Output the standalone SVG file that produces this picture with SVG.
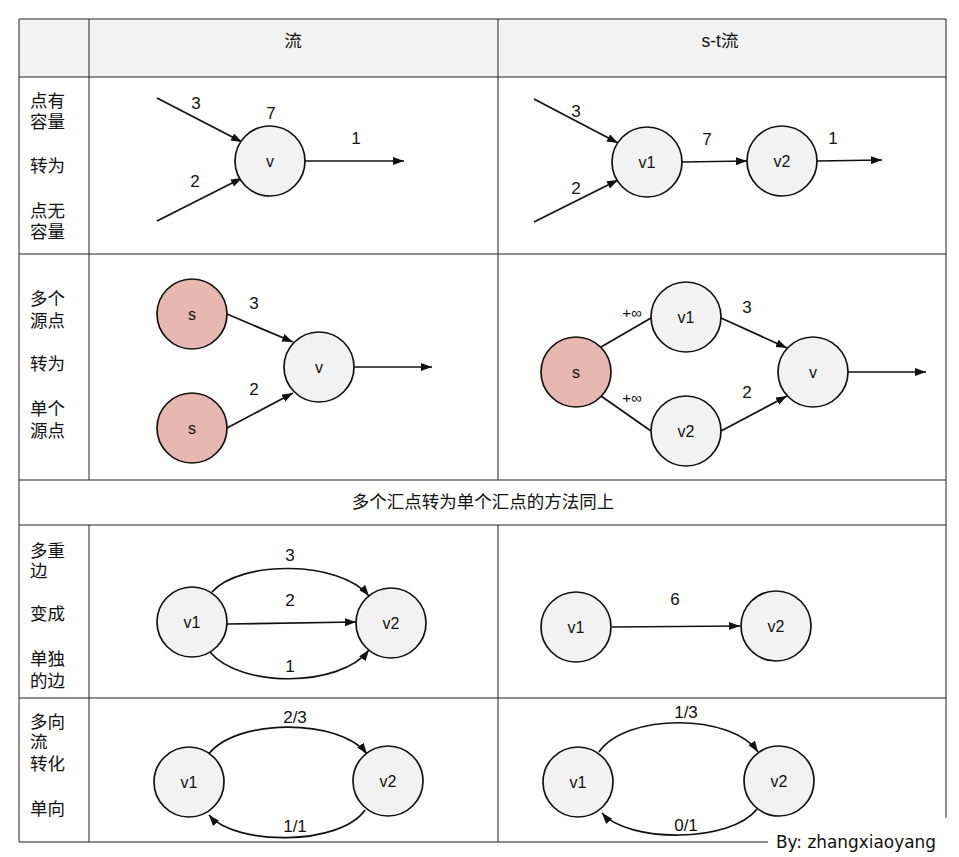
<svg xmlns="http://www.w3.org/2000/svg" width="959" height="857" viewBox="0 0 959 857">
<style>
.grid{stroke:#222;stroke-width:1;fill:none}
.hdr{fill:#f2f2f2}
.t{font-family:"Liberation Sans","Noto Sans CJK SC",sans-serif;font-size:17px;fill:#111}
.c{text-anchor:middle}
.lbl{font-family:"Liberation Sans","Noto Sans CJK SC",sans-serif;font-size:17.5px;fill:#111}
.node circle{fill:#f2f2f2;stroke:#111;stroke-width:1.7}
.node.src circle{fill:#e6b8af}
.node text{font-family:"Liberation Sans",sans-serif;font-size:16px;fill:#111;text-anchor:middle}
.e{stroke:#111;stroke-width:1.7;fill:none}
.ea{marker-end:url(#ah)}
.sm{font-size:15px}
.sig{font-family:"DejaVu Sans",sans-serif;font-size:17px;fill:#111}
</style>
<defs>
<marker id="ah" markerUnits="userSpaceOnUse" markerWidth="12" markerHeight="9" refX="11" refY="4" orient="auto">
<path d="M0,0 L11,4 L0,8 z" fill="#111"/>
</marker>
</defs>
<rect width="959" height="857" fill="#fff"/>
<g id="table">
<rect class="hdr" x="19" y="19" width="927" height="58"/>
<path class="grid" d="M19,19 H946 M19,77 H946 M19,254 H946 M19,480 H946 M19,525 H946 M19,698 H946 M19,842 H768 M19,19 V842 M946,19 V818 M89,19 V480 M89,525 V842 M498,19 V480 M498,525 V842"/>
<text class="lbl c" x="293" y="47">流</text>
<text class="lbl c" x="720" y="47">s-t流</text>
<text class="lbl"><tspan x="30" y="107">点有</tspan><tspan x="30" y="128">容量</tspan><tspan x="30" y="172">转为</tspan><tspan x="30" y="217">点无</tspan><tspan x="30" y="238">容量</tspan></text>
<text class="lbl"><tspan x="30" y="305">多个</tspan><tspan x="30" y="327">源点</tspan><tspan x="30" y="370">转为</tspan><tspan x="30" y="415">单个</tspan><tspan x="30" y="437">源点</tspan></text>
<text class="lbl c" x="483" y="508">多个汇点转为单个汇点的方法同上</text>
<text class="lbl"><tspan x="30" y="557">多重</tspan><tspan x="30" y="577">边</tspan><tspan x="30" y="620">变成</tspan><tspan x="30" y="665">单独</tspan><tspan x="30" y="687">的边</tspan></text>
<text class="lbl"><tspan x="30" y="728">多向</tspan><tspan x="30" y="748">流</tspan><tspan x="30" y="770">转化</tspan><tspan x="30" y="815">单向</tspan></text>
</g>
<g id="connectors">
<path class="e ea" d="M157,98 L242,142"/>
<path class="e ea" d="M157,221 L242,178"/>
<path class="e ea" d="M305,161 L404,161"/>
<path class="e ea" d="M534,99 L618,143"/>
<path class="e ea" d="M534,222 L618,180"/>
<path class="e ea" d="M682,162 L747,161"/>
<path class="e ea" d="M817,161 L882,160"/>
<path class="e ea" d="M227,314 L293,342"/>
<path class="e ea" d="M227,428 L293,393"/>
<path class="e ea" d="M353,367 L432,367"/>
<path class="e" d="M601,347 L651,318"/>
<path class="e" d="M601,396 L651,431"/>
<path class="e ea" d="M721,318 L787,348"/>
<path class="e ea" d="M721,431 L787,396"/>
<path class="e ea" d="M847,372 L926,372"/>
<path class="e ea" d="M212,592 C240,560 340,560 369,596"/>
<path class="e ea" d="M227,624 L356,622"/>
<path class="e ea" d="M210,652 C240,688 340,688 369,650"/>
<path class="e ea" d="M612,627 L740,626"/>
<path class="e ea" d="M208,755 C235,718 340,718 367,754"/>
<path class="e ea" d="M365,810 C340,846 235,846 209,815"/>
<path class="e ea" d="M599,752 C626,713 731,713 758,752"/>
<path class="e ea" d="M757,809 C731,843 628,843 602,813"/>
<text class="t c" x="196" y="109">3</text>
<text class="t c" x="271" y="119">7</text>
<text class="t c" x="356" y="144">1</text>
<text class="t c" x="195" y="187">2</text>
<text class="t c" x="576" y="117">3</text>
<text class="t c" x="576" y="194">2</text>
<text class="t c" x="707" y="145">7</text>
<text class="t c" x="833" y="144">1</text>
<text class="t c" x="254" y="309">3</text>
<text class="t c" x="254" y="395">2</text>
<text class="t c sm" x="632" y="318">+∞</text>
<text class="t c sm" x="632" y="403">+∞</text>
<text class="t c" x="747" y="313">3</text>
<text class="t c" x="747" y="398">2</text>
<text class="t c" x="290" y="561">3</text>
<text class="t c" x="290" y="606">2</text>
<text class="t c" x="290" y="672">1</text>
<text class="t c" x="675" y="605">6</text>
<text class="t c" x="295" y="723">2/3</text>
<text class="t c" x="295" y="832">1/1</text>
<text class="t c" x="686" y="718">1/3</text>
<text class="t c" x="686" y="831">0/1</text>
</g>
<g id="r1l-v" class="node"><circle cx="270" cy="161" r="35"/><text x="270" y="167">v</text></g>
<g id="r1r-v1" class="node"><circle cx="647" cy="162" r="35"/><text x="647" y="168">v1</text></g>
<g id="r1r-v2" class="node"><circle cx="782" cy="161" r="35"/><text x="782" y="167">v2</text></g>
<g id="r2l-s1" class="node src"><circle cx="192" cy="314" r="35"/><text x="192" y="320">s</text></g>
<g id="r2l-s2" class="node src"><circle cx="192" cy="428" r="35"/><text x="192" y="434">s</text></g>
<g id="r2l-v" class="node"><circle cx="319" cy="367" r="35"/><text x="319" y="373">v</text></g>
<g id="r2r-s" class="node src"><circle cx="576" cy="372" r="35"/><text x="576" y="378">s</text></g>
<g id="r2r-v1" class="node"><circle cx="686" cy="317" r="35"/><text x="686" y="323">v1</text></g>
<g id="r2r-v2" class="node"><circle cx="686" cy="431" r="35"/><text x="686" y="437">v2</text></g>
<g id="r2r-v" class="node"><circle cx="813" cy="372" r="35"/><text x="813" y="378">v</text></g>
<g id="r4l-v1" class="node"><circle cx="192" cy="622" r="35"/><text x="192" y="628">v1</text></g>
<g id="r4l-v2" class="node"><circle cx="391" cy="623" r="35"/><text x="391" y="629">v2</text></g>
<g id="r4r-v1" class="node"><circle cx="576" cy="627" r="35"/><text x="576" y="633">v1</text></g>
<g id="r4r-v2" class="node"><circle cx="776" cy="626" r="35"/><text x="776" y="632">v2</text></g>
<g id="r5l-v1" class="node"><circle cx="189" cy="782" r="35"/><text x="189" y="788">v1</text></g>
<g id="r5l-v2" class="node"><circle cx="388" cy="781" r="35"/><text x="388" y="787">v2</text></g>
<g id="r5r-v1" class="node"><circle cx="578" cy="782" r="35"/><text x="578" y="788">v1</text></g>
<g id="r5r-v2" class="node"><circle cx="779" cy="781" r="35"/><text x="779" y="787">v2</text></g>
<text class="sig" x="776" y="848" textLength="160" lengthAdjust="spacingAndGlyphs">By: zhangxiaoyang</text>
</svg>
